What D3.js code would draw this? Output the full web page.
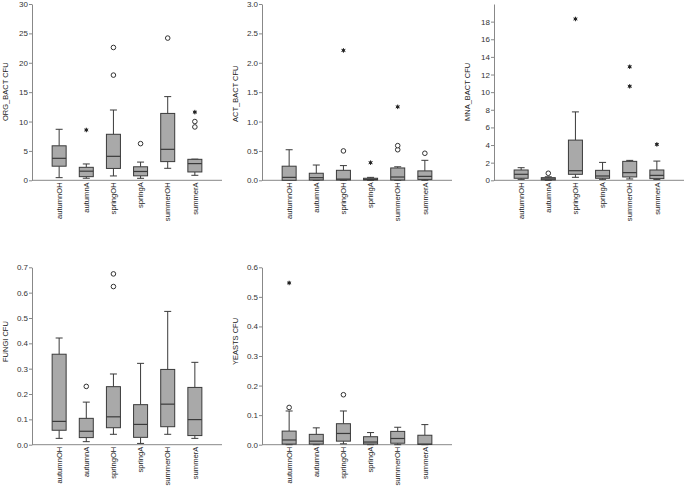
<!DOCTYPE html>
<html><head><meta charset="utf-8">
<script src="https://cdn.jsdelivr.net/npm/d3@7"></script>
<style>
body{margin:0;background:#fff;}
svg{display:block;font-family:"Liberation Sans",Arial,sans-serif;}
</style></head>
<body>
<svg id="c" width="685" height="487"></svg>
<script>
const categories = ["autumnOH","autumnA","springOH","springA","summerOH","summerA"];

// box stats per category: [lowWhisker, q1, median, q3, highWhisker]
const orgBox = [[0.45,2.4,3.74,5.87,8.68],[0.35,0.62,1.55,2.21,2.78],[0.74,2.02,4.08,7.83,11.96],[0.34,0.76,1.5,2.3,3.1],[2.04,3.18,5.27,11.38,14.24],[0.85,1.42,2.84,3.57,3.6]];
const orgOut = [[2,22.6],[2,17.9],[3,6.24],[4,24.2],[5,10.0],[5,9.08]];
const orgExt = [[1,8.56],[5,11.6]];

const actBox = [[0,0,0.05,0.24,0.52],[0,0.005,0.045,0.12,0.26],[0,0.005,0.02,0.17,0.25],[0,0.005,0.015,0.035,0.05],[0,0.005,0.056,0.21,0.23],[0,0.015,0.067,0.16,0.34]];
const actOut = [[2,0.5],[4,0.52],[4,0.59],[5,0.46]];
const actExt = [[2,2.21],[3,0.3],[4,1.25]];

const mnaBox = [[0.11,0.23,0.68,1.17,1.43],[0,0.04,0.15,0.3,0.4],[0.34,0.68,1.09,4.56,7.76],[0.11,0.23,0.49,1.13,2.03],[0.15,0.38,0.87,2.15,2.26],[0.08,0.19,0.56,1.17,2.18]];
const mnaOut = [[1,0.8]];
const mnaExt = [[2,18.3],[4,12.88],[4,10.66],[5,4.07]];

const fungiBox = [[0.025,0.057,0.092,0.357,0.421],[0.012,0.028,0.053,0.104,0.168],[0.041,0.067,0.11,0.229,0.279],[0.005,0.029,0.08,0.158,0.321],[0.041,0.071,0.16,0.297,0.526],[0.025,0.036,0.099,0.226,0.325]];
const fungiOut = [[1,0.23],[2,0.674],[2,0.624]];
const fungiExt = [];

const yeastBox = [[0,0.002,0.016,0.046,0.114],[0,0.002,0.012,0.035,0.057],[0.003,0.012,0.038,0.071,0.114],[0,0.002,0.009,0.027,0.041],[0,0.005,0.021,0.045,0.059],[0,0.001,0.002,0.032,0.068]];
const yeastOut = [[0,0.126],[2,0.169]];
const yeastExt = [[0,0.547]];

const yLabels = ["ORG_BACT CFU","ACT_BACT CFU","MNA_BACT CFU","FUNGI CFU","YEASTS CFU"];
const yMax = [30,3.0,20,0.7,0.6];
const yTicks = [[0,5,10,15,20,25,30],[0,0.5,1,1.5,2,2.5,3],[0,2,4,6,8,10,12,14,16,18],[0,0.1,0.2,0.3,0.4,0.5,0.6,0.7],[0,0.1,0.2,0.3,0.4,0.5,0.6]];
const tickFmt = ["d",".1f","d",".1f",".1f"];

const panels = [
  {box:orgBox,out:orgOut,ext:orgExt,x:32,top:4,bottom:180.3,labY:121},
  {box:actBox,out:actOut,ext:actExt,x:262,top:4,bottom:180.3,labY:122},
  {box:mnaBox,out:mnaOut,ext:mnaExt,x:494,top:4,bottom:180.3,labY:121},
  {box:fungiBox,out:fungiOut,ext:fungiExt,x:32,top:267.3,bottom:444.7,labY:362},
  {box:yeastBox,out:yeastOut,ext:yeastExt,x:262,top:267.3,bottom:444.7,labY:365}
];

const svg = d3.select("#c");
const W = 190;
const boxW = 14, capW = 7;
const fill = "#a9a9a9", stroke = "#3a3a3a", axisCol = "#888";

panels.forEach((p,i)=>{
  const g = svg.append("g");
  const x = d3.scalePoint().domain(categories).range([p.x, p.x+W]).padding(1);
  const y = d3.scaleLinear().domain([0,yMax[i]]).range([p.bottom, p.top]);

  const ax = g.append("g").attr("transform",`translate(${p.x},0)`)
    .call(d3.axisLeft(y).tickValues(yTicks[i]).tickFormat(d3.format(tickFmt[i])).tickSize(3).tickPadding(1).tickSizeOuter(0));
  ax.attr("font-family",null);
  ax.select(".domain").attr("stroke",axisCol);
  ax.selectAll(".tick line").attr("stroke",axisCol);
  ax.selectAll(".tick text").attr("fill","#333").style("font-size","8px");

  g.append("line").attr("x1",p.x).attr("x2",p.x+W).attr("y1",y(0)).attr("y2",y(0))
    .attr("stroke",axisCol).attr("stroke-width",1);

  categories.forEach(c=>{
    g.append("text").attr("transform",`translate(${x(c)},${y(0)+2}) rotate(-90)`)
      .attr("text-anchor","end").attr("dy","0.35em")
      .style("font-size","7.6px").attr("fill","#222").text(c);
  });

  g.append("text").attr("transform",`translate(${p.x-27},${p.labY}) rotate(-90)`)
    .attr("text-anchor","start").attr("dy","0.35em")
    .style("font-size","7.5px").attr("fill","#222").text(yLabels[i]);

  p.box.forEach((b,j)=>{
    const cx = x(categories[j]);
    const [lo,q1,md,q3,hi] = b;
    const wg = g.append("g").attr("stroke",stroke).attr("stroke-width",1);
    if (hi > q3) {
      wg.append("line").attr("x1",cx).attr("x2",cx).attr("y1",y(q3)).attr("y2",y(hi));
      wg.append("line").attr("x1",cx-capW/2).attr("x2",cx+capW/2).attr("y1",y(hi)).attr("y2",y(hi));
    }
    if (lo < q1) {
      wg.append("line").attr("x1",cx).attr("x2",cx).attr("y1",y(q1)).attr("y2",y(lo));
      wg.append("line").attr("x1",cx-capW/2).attr("x2",cx+capW/2).attr("y1",y(lo)).attr("y2",y(lo));
    }
    wg.append("rect").attr("x",cx-boxW/2).attr("width",boxW)
      .attr("y",y(q3)).attr("height",Math.max(0.5,y(q1)-y(q3)))
      .attr("fill",fill);
    wg.append("line").attr("x1",cx-boxW/2).attr("x2",cx+boxW/2).attr("y1",y(md)).attr("y2",y(md))
      .attr("stroke-width",1.2);
  });

  p.out.forEach(o=>{
    g.append("circle").attr("cx",x(categories[o[0]])).attr("cy",y(o[1])).attr("r",2.3)
      .attr("fill","#fff").attr("stroke","#333").attr("stroke-width",1);
  });
  p.ext.forEach(o=>{
    const cx = x(categories[o[0]]), cy = y(o[1]);
    g.append("path").attr("transform",`translate(${cx},${cy})`)
      .attr("d",d3.symbol(d3.symbolAsterisk,14)())
      .attr("fill","none").attr("stroke","#222").attr("stroke-width",1);
    g.append("circle").attr("cx",cx).attr("cy",cy).attr("r",1.4).attr("fill","#222");
  });
});
</script>
</body></html>
